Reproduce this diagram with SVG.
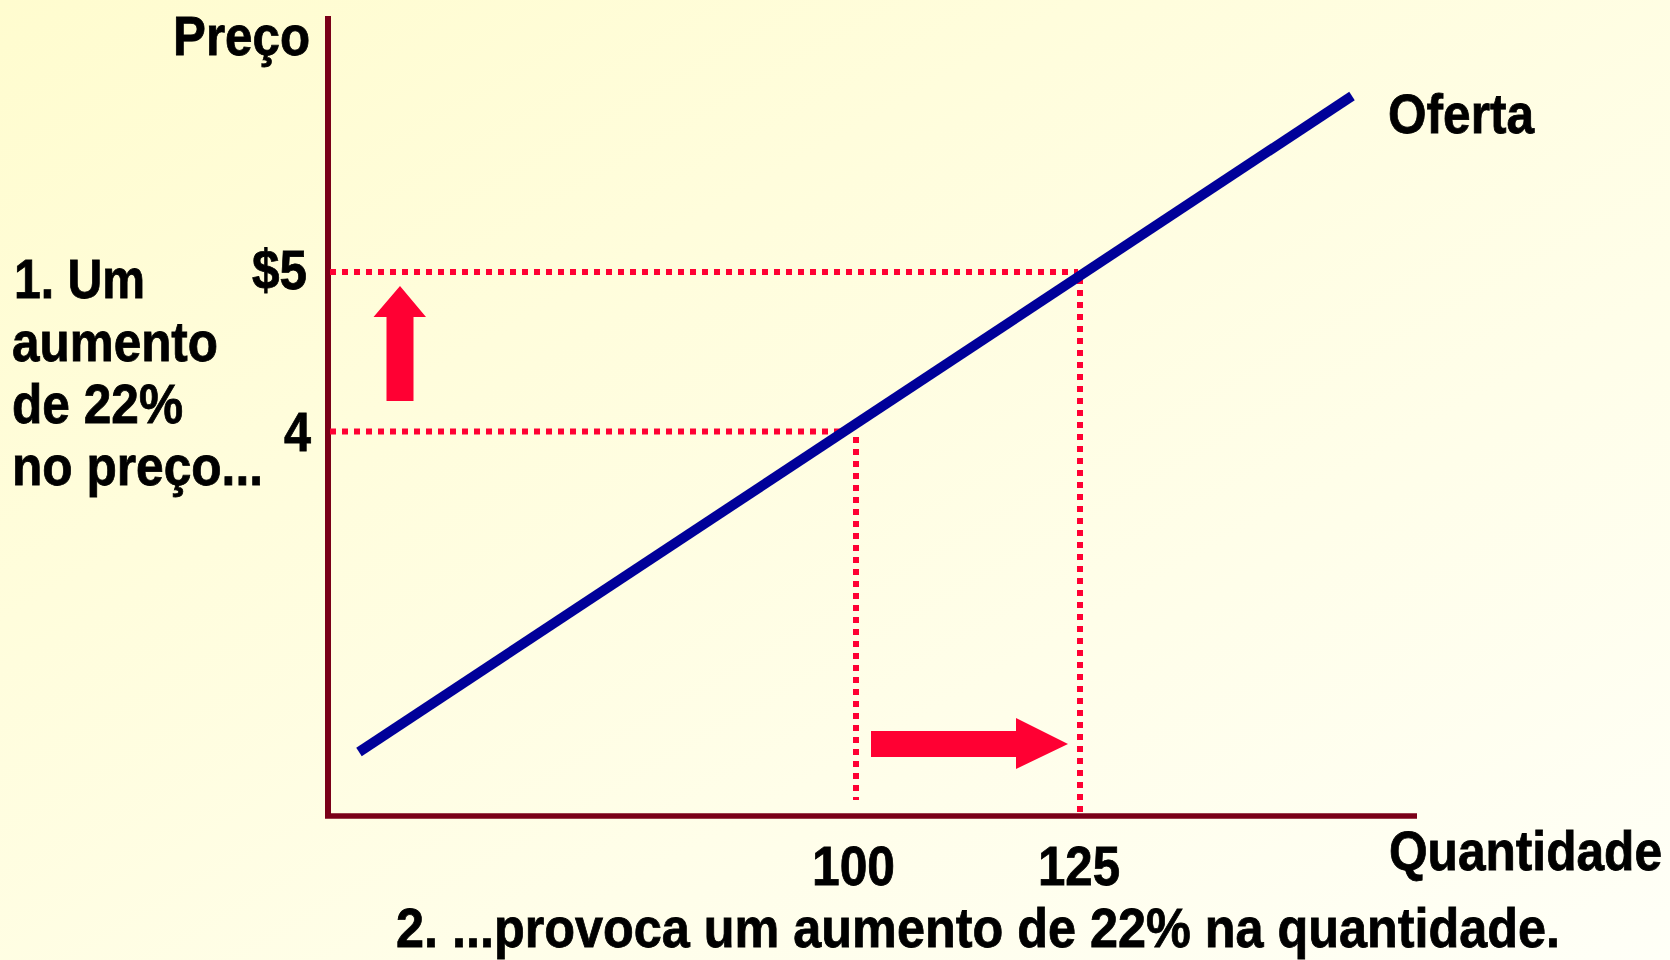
<svg xmlns="http://www.w3.org/2000/svg" width="1670" height="960" viewBox="0 0 1670 960">
<defs>
<linearGradient id="bg" x1="0" y1="0" x2="1" y2="1">
<stop offset="0" stop-color="#FFFCCF"/>
<stop offset="1" stop-color="#FFFFF7"/>
</linearGradient>
</defs>
<style>
text{font-family:"Liberation Sans Narrow","Liberation Sans",Arial,sans-serif;font-weight:bold;font-size:56px;fill:#000;stroke:#000;stroke-width:0.8}
.axis{stroke:#7A0018;fill:none}
.dot{stroke:#FF0033;stroke-width:6;stroke-dasharray:6 6;fill:none}
.arrow{fill:#FF0033}
</style>
<rect width="1670" height="960" fill="url(#bg)"/>
<g id="axes">
<path class="axis" d="M328,16 V816" stroke-width="6"/>
<path class="axis" d="M325,816 H1417" stroke-width="5.5"/>
</g>
<g id="connectors">
<path class="dot" d="M330,272 H1078"/>
<path class="dot" d="M1080,278 V812"/>
<path class="dot" d="M330,431.5 H846"/>
<path class="dot" d="M856,437 V800"/>
</g>
<g id="supply">
<path d="M359,752 L1352,96" stroke="#000099" stroke-width="10" fill="none"/>
</g>
<g id="arrow-up">
<polygon class="arrow" points="400,286 426,317 413.5,317 413.5,401 386.5,401 386.5,317 373.5,317"/>
</g>
<g id="arrow-right">
<polygon class="arrow" points="1068,744 1016,718 1016,731 871,731 871,757 1016,757 1016,769"/>
</g>
<g id="labels">
<text x="173" y="55" textLength="137" lengthAdjust="spacingAndGlyphs">Preço</text>
<text x="252" y="289" textLength="55" lengthAdjust="spacingAndGlyphs">$5</text>
<text x="284" y="451" textLength="27" lengthAdjust="spacingAndGlyphs">4</text>
<text x="14" y="298" textLength="131" lengthAdjust="spacingAndGlyphs">1. Um</text>
<text x="12" y="361" textLength="206" lengthAdjust="spacingAndGlyphs">aumento</text>
<text x="12" y="423" textLength="171" lengthAdjust="spacingAndGlyphs">de 22%</text>
<text x="12" y="485" textLength="251" lengthAdjust="spacingAndGlyphs">no preço...</text>
<text x="1388" y="133" textLength="146" lengthAdjust="spacingAndGlyphs">Oferta</text>
<text x="1389" y="870" textLength="273" lengthAdjust="spacingAndGlyphs">Quantidade</text>
<text x="812" y="885" textLength="83" lengthAdjust="spacingAndGlyphs">100</text>
<text x="1038" y="885" textLength="82" lengthAdjust="spacingAndGlyphs">125</text>
<text x="396" y="947" textLength="1164" lengthAdjust="spacingAndGlyphs">2. ...provoca um aumento de 22% na quantidade.</text>
</g>
</svg>
